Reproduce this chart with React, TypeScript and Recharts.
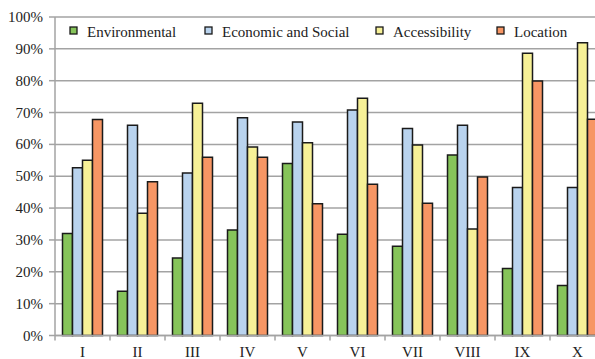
import React from "react";
import { BarChart, Bar, XAxis, YAxis, CartesianGrid } from "recharts";

const categories = ["I", "II", "III", "IV", "V", "VI", "VII", "VIII", "IX", "X"];
const environmental = [32, 13.9, 24.3, 33.1, 54, 31.8, 28, 56.7, 21, 15.7];
const economic = [52.7, 66, 51, 68.4, 67, 70.8, 65, 66, 46.5, 46.5];
const accessibility = [55, 38.4, 72.9, 59.2, 60.5, 74.5, 59.8, 33.4, 88.6, 91.9];
const location = [67.8, 48.3, 56, 56, 41.4, 47.5, 41.5, 49.8, 79.9, 67.9];
const yTicks = [0, 10, 20, 30, 40, 50, 60, 70, 80, 90, 100];

const series = [
  { key: "env", name: "Environmental", values: environmental, color: "#86c45a" },
  { key: "eco", name: "Economic and Social", values: economic, color: "#b9d3ee" },
  { key: "acc", name: "Accessibility", values: accessibility, color: "#f7f197" },
  { key: "loc", name: "Location", values: location, color: "#f79664" },
];

const data = categories.map((c, i) => {
  const row: Record<string, string | number> = { name: c };
  series.forEach((s) => (row[s.key] = s.values[i]));
  return row;
});

const FONT = "Liberation Serif";
const GRID = "#a3a3a3";
const BAND = 55;

const legendX = [70, 205, 376, 497];

function XTick(props: any) {
  const { x, y, payload } = props;
  return (
    <g>
      <line x1={x - BAND / 2} y1={y - 8} x2={x - BAND / 2} y2={y - 3} stroke={GRID} strokeWidth={1.5} />
      <text x={x} y={y + 13} textAnchor="middle" style={{ fontFamily: FONT, fontSize: 15 }} fill="#222">
        {payload.value}
      </text>
    </g>
  );
}

function YTick(props: any) {
  const { x, y, payload } = props;
  return (
    <text x={x} y={y + 5} textAnchor="end" style={{ fontFamily: FONT, fontSize: 15 }} fill="#222">
      {`${payload.value}%`}
    </text>
  );
}

export default function App() {
  return (
    <div style={{ position: "absolute", left: 0, top: 0, width: 595, height: 359, overflow: "hidden", background: "#fff", fontFamily: FONT }}>
      <BarChart
        width={610}
        height={359}
        data={data}
        margin={{ top: 17, right: 5, left: 0, bottom: 0 }}
        barGap={0}
        barCategoryGap={7.5}
      >
        <CartesianGrid vertical={false} stroke={GRID} strokeWidth={1.5} />
        <XAxis
          dataKey="name"
          height={23.5}
          axisLine={{ stroke: GRID, strokeWidth: 1.5 }}
          tickLine={false}
          tick={<XTick />}
          interval={0}
        />
        <YAxis
          width={55}
          domain={[0, 100]}
          ticks={yTicks}
          axisLine={{ stroke: GRID, strokeWidth: 1.5 }}
          tickLine={{ stroke: GRID, strokeWidth: 1.5 }}
          tickSize={6}
          tickMargin={6}
          tick={<YTick />}
        />
        {series.map((s) => (
          <Bar
            key={s.key}
            dataKey={s.key}
            name={s.name}
            fill={s.color}
            stroke="#1a1a1a"
            strokeWidth={1.5}
            isAnimationActive={false}
          />
        ))}
      </BarChart>
      <svg width={595} height={50} style={{ position: "absolute", left: 0, top: 0 }}>
        {series.map((s, i) => (
          <g key={s.key}>
            <rect x={legendX[i]} y={27} width={7} height={7} fill={s.color} stroke="#1a1a1a" strokeWidth={1.3} />
            <text x={legendX[i] + 17} y={37} style={{ fontFamily: FONT, fontSize: 15 }} fill="#222">
              {s.name}
            </text>
          </g>
        ))}
      </svg>
    </div>
  );
}
